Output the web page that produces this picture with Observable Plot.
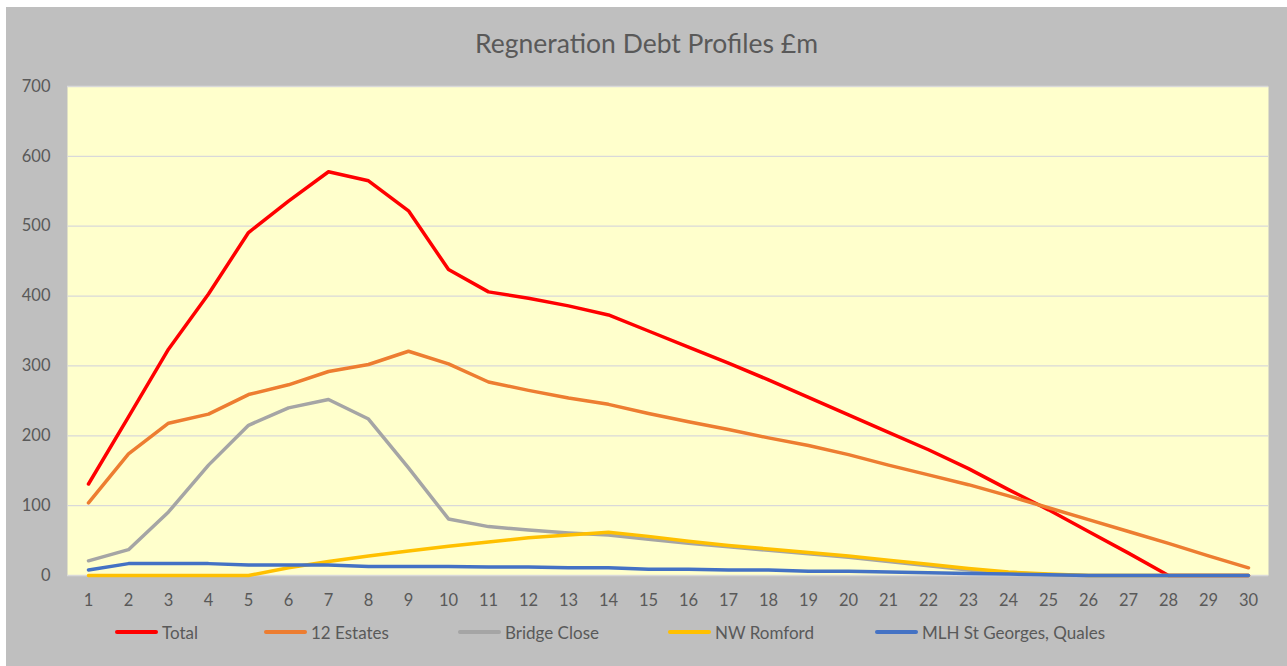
<!DOCTYPE html>
<html><head><meta charset="utf-8">
<script src="https://cdn.jsdelivr.net/npm/d3@7"></script>
<script src="https://cdn.jsdelivr.net/npm/@observablehq/plot@0.6"></script>
<style>
body{margin:0;background:#fff;font-family:Lato,"Open Sans",sans-serif;}
#chart{position:absolute;left:6px;top:7px;width:1281px;height:659px;background:#BFBFBF;overflow:hidden;}
#title{position:absolute;left:0;width:100%;top:21px;text-align:center;font-size:26.5px;color:#595959;line-height:30px;}
#plot{position:absolute;left:0;top:69px;}
#legend{position:absolute;left:0;top:614px;width:100%;height:22px;font-size:17px;color:#595959;}
.item{position:absolute;top:0;height:22px;display:flex;align-items:center;gap:4px;white-space:nowrap;}
.sw{width:43px;height:4px;border-radius:2px;}
</style>
</head><body>
<div id="chart">
  <div id="title">Regneration Debt Profiles £m</div>
  <div id="plot"></div>
  <div id="legend"></div>
</div>
<script>
const periods = [1,2,3,4,5,6,7,8,9,10,11,12,13,14,15,16,17,18,19,20,21,22,23,24,25,26,27,28,29,30];
const seriesNames = ["Total","12 Estates","Bridge Close","NW Romford","MLH St Georges, Quales"];
const total   = [131,227,324,403,491,536,578,565,522,438,406,397,386,373,350,327,304,280,255,230,205,180,153,123,94,63,32,0,0,0];
const estates = [104,174,218,231,259,273,292,302,321,303,277,265,254,245,232,220,209,197,186,173,158,144,130,114,97,80,63,46,28,11];
const bridge  = [21,37,91,158,215,240,252,224,154,81,70,65,61,58,52,46,41,36,31,26,20,14,8,4,1,0,0,0,0,0];
const romford = [0,0,0,0,0,11,20,28,35,42,48,54,58,62,56,49,43,38,33,28,22,16,10,5,2,0,0,0,0,0];
const mlh     = [8,17,17,17,15,15,15,13,13,13,12,12,11,11,9,9,8,8,6,6,5,4,3,2,1,0,0,0,0,0];
const yTicks  = [0,100,200,300,400,500,600,700];
const colors  = ["#FF0000","#ED7D31","#A5A5A5","#FFC000","#4472C4"];
const legendLefts = [109,258,452,662,869];

const allSeries = [total, estates, bridge, romford, mlh];
const rows = [];
allSeries.forEach((vals, i) => vals.forEach((v, j) => rows.push({series: seriesNames[i], period: periods[j], value: v})));

const chart = Plot.plot({
  width: 1281, height: 540,
  marginTop: 10, marginBottom: 41, marginLeft: 61, marginRight: 19,
  style: {background: "transparent", color: "#595959", fontFamily: "Lato, 'Open Sans', sans-serif"},
  x: {type: "point", domain: periods, padding: 0.5, label: null},
  y: {domain: [0, 700], label: null},
  color: {domain: seriesNames, range: colors},
  marks: [
    Plot.frame({fill: "#FFFFCC", stroke: "none"}),
    Plot.ruleY(yTicks, {stroke: "#D9D9D9", strokeWidth: 1.3}),
    Plot.line(rows, {x: "period", y: "value", z: "series", stroke: "series", strokeWidth: 3.5, strokeLinejoin: "round", strokeLinecap: "round"}),
    Plot.axisY(yTicks, {tickSize: 0, tickPadding: 17, fontSize: 16.5, label: null}),
    Plot.axisX(periods, {tickSize: 0, tickPadding: 19, fontSize: 16.5, label: null})
  ]
});
document.getElementById("plot").appendChild(chart);

const legend = document.getElementById("legend");
seriesNames.forEach((n, i) => {
  const it = document.createElement("div"); it.className = "item"; it.style.left = legendLefts[i] + "px";
  const sw = document.createElement("div"); sw.className = "sw"; sw.style.background = colors[i];
  const tx = document.createElement("span"); tx.textContent = n;
  it.appendChild(sw); it.appendChild(tx); legend.appendChild(it);
});
</script>
</body></html>
